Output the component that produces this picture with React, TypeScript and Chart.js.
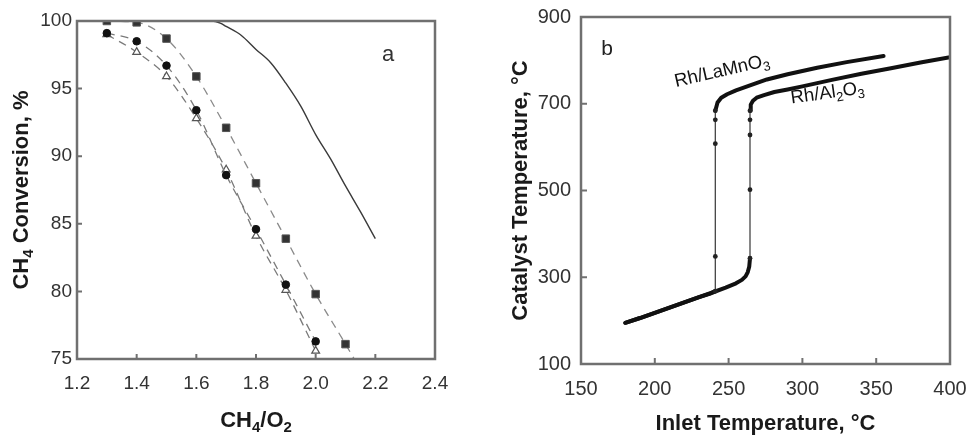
import React, { useEffect, useRef } from "react";
import { Chart, registerables } from "chart.js";

Chart.register(...registerables);

const FONT = "'Liberation Sans', Arial, Helvetica, sans-serif";
const FRAME = "#707070";

// ---------- Panel a : CH4 conversion vs CH4/O2 ----------
const ratioTicks = [1.2, 1.4, 1.6, 1.8, 2.0, 2.2, 2.4];
const convTicks = [75, 80, 85, 90, 95, 100];
const ratioSquares = [1.3, 1.4, 1.5, 1.6, 1.7, 1.8, 1.9, 2.0, 2.1];
const convSquares = [100, 99.9, 98.7, 95.9, 92.1, 88.0, 83.9, 79.8, 76.1];
const ratioSquaresTail = [2.2];
const convSquaresTail = [72.3];
const ratioCircles = [1.3, 1.4, 1.5, 1.6, 1.7, 1.8, 1.9, 2.0];
const convCircles = [99.1, 98.5, 96.7, 93.4, 88.6, 84.6, 80.5, 76.3];
const ratioTriangles = [1.3, 1.4, 1.5, 1.6, 1.7, 1.8, 1.9, 2.0];
const convTriangles = [99.0, 97.7, 95.9, 92.8, 89.0, 84.1, 80.1, 75.6];
const ratioEquil = [1.3, 1.4, 1.5, 1.6, 1.65, 1.68, 1.7, 1.75, 1.8, 1.85, 1.9, 1.95, 2.0, 2.05, 2.1, 2.15, 2.2];
const convEquil = [100, 100, 100, 100, 100, 99.85, 99.6, 98.95, 97.9, 96.9, 95.4, 93.7, 91.6, 89.8, 87.8, 85.9, 83.9];

// ---------- Panel b : catalyst temperature vs inlet temperature ----------
const inletTicks = [150, 200, 250, 300, 350, 400];
const catTicks = [100, 300, 500, 700, 900];
const inletLaMnO3 = [180, 190, 200, 210, 220, 230, 238, 241, 241, 241, 241, 241, 242.5, 245, 249, 255, 265, 276, 290, 310, 330, 355];
const catLaMnO3 = [195, 206, 218, 230, 242, 254, 263, 268, 348, 608, 663, 684, 703, 714, 722, 731, 743, 756, 768, 783, 796, 810];
const inletAl2O3 = [180, 190, 200, 210, 220, 230, 240, 248, 255, 259, 261.5, 263, 264, 264.5, 264.5, 264.5, 264.5, 264.5, 265, 266.5, 269, 274, 281, 290, 300, 320, 340, 360, 380, 400];
const catAl2O3 = [195, 206, 218, 230, 242, 254, 266, 276, 286, 294, 302, 312, 325, 344, 502, 628, 663, 684, 698, 707, 714, 720, 727, 733, 740, 755, 769, 782, 795, 807];

type Part = { t: string; sub?: boolean };
const titleAx: Part[] = [{ t: "CH" }, { t: "4", sub: true }, { t: "/O" }, { t: "2", sub: true }];
const titleAy: Part[] = [{ t: "CH" }, { t: "4", sub: true }, { t: " Conversion, %" }];
const titleBx: Part[] = [{ t: "Inlet Temperature, °C" }];
const titleBy: Part[] = [{ t: "Catalyst Temperature, °C" }];
const labelA: Part[] = [{ t: "a" }];
const labelB: Part[] = [{ t: "b" }];
const labelLaMnO3: Part[] = [{ t: "Rh/LaMnO" }, { t: "3", sub: true }];
const labelAl2O3: Part[] = [{ t: "Rh/Al" }, { t: "2", sub: true }, { t: "O" }, { t: "3", sub: true }];

const xy = (xs: number[], ys: number[]) => xs.map((x, i) => ({ x, y: ys[i] }));

function drawRich(ctx: CanvasRenderingContext2D, parts: Part[], x: number, y: number, size: number, bold: boolean, color: string, angle = 0) {
  ctx.save();
  ctx.translate(x, y);
  ctx.rotate(angle);
  const fontOf = (p: Part) => `${bold ? "bold " : ""}${p.sub ? Math.round(size * 0.68) : size}px ${FONT}`;
  const widths = parts.map((p) => {
    ctx.font = fontOf(p);
    return ctx.measureText(p.t).width;
  });
  const total = widths.reduce((a, b) => a + b, 0);
  let cx = -total / 2;
  ctx.fillStyle = color;
  ctx.textAlign = "left";
  ctx.textBaseline = "middle";
  parts.forEach((p, i) => {
    ctx.font = fontOf(p);
    ctx.fillText(p.t, cx, p.sub ? size * 0.32 : 0);
    cx += widths[i];
  });
  ctx.restore();
}

type Label = { parts: Part[]; x: number; y: number; size: number; angle: number; color: string };
type DecorCfg = {
  xTitle: Part[]; yTitle: Part[]; titleSize: number; xTitleY: number; yTitleX: number;
  labels: Label[]; tick: number;
};

function drawFrame(chart: any, tick: number) {
  const ctx: CanvasRenderingContext2D = chart.ctx;
  const a = chart.chartArea;
  const sx = chart.scales.x;
  const sy = chart.scales.y;
  ctx.save();
  ctx.setLineDash([]);
  ctx.strokeStyle = FRAME;
  ctx.lineWidth = 2.5;
  ctx.beginPath();
  ctx.moveTo(a.left, a.top);
  ctx.lineTo(a.right, a.top);
  ctx.lineTo(a.right, a.bottom);
  ctx.lineTo(a.left, a.bottom);
  ctx.closePath();
  ctx.stroke();
  ctx.lineWidth = 2;
  ctx.beginPath();
  for (const t of sx.ticks) {
    const px = sx.getPixelForValue(t.value);
    ctx.moveTo(px, a.bottom);
    ctx.lineTo(px, a.bottom - tick);
  }
  for (const t of sy.ticks) {
    const py = sy.getPixelForValue(t.value);
    ctx.moveTo(a.left, py);
    ctx.lineTo(a.left + tick, py);
  }
  ctx.stroke();
  ctx.restore();
}

function makeDecor(cfg: DecorCfg) {
  return {
    id: "decorFrame",
    afterDraw(chart: any) {
      drawFrame(chart, cfg.tick);
      const { ctx, chartArea: a, scales } = chart;
      drawRich(ctx, cfg.xTitle, (a.left + a.right) / 2, cfg.xTitleY, cfg.titleSize, true, "#1a1a1a");
      drawRich(ctx, cfg.yTitle, cfg.yTitleX, (a.top + a.bottom) / 2, cfg.titleSize, true, "#1a1a1a", -Math.PI / 2);
      cfg.labels.forEach((l) => {
        drawRich(ctx, l.parts, scales.x.getPixelForValue(l.x), scales.y.getPixelForValue(l.y), l.size, false, l.color, l.angle);
      });
    },
  };
}

function axisOpts(min: number, max: number, values: number[], size: number, padding: number, thickness: number, horizontal: boolean, digits: number) {
  return {
    type: "linear" as const,
    min,
    max,
    afterBuildTicks: (s: any) => {
      s.ticks = values.map((v) => ({ value: v }));
    },
    afterFit: (s: any) => {
      if (horizontal) s.height = thickness;
      else s.width = thickness;
      s.paddingLeft = 0;
      s.paddingRight = 0;
      s.paddingTop = 0;
      s.paddingBottom = 0;
    },
    ticks: {
      autoSkip: false,
      maxRotation: 0,
      padding,
      color: "#333",
      font: { size, family: FONT },
      callback: (v: any) => Number(v).toFixed(digits),
    },
    grid: { display: false, drawTicks: false },
    border: { display: false },
  };
}

export default function App() {
  const refA = useRef<HTMLCanvasElement>(null);
  const refB = useRef<HTMLCanvasElement>(null);

  useEffect(() => {
    const dash = [8, 6];
    const chartA = new Chart(refA.current as HTMLCanvasElement, {
      type: "line",
      data: {
        datasets: [
          {
            data: xy(ratioCircles, convCircles),
            order: 0,
            borderColor: "#7a7a7a",
            borderWidth: 1.3,
            borderDash: dash,
            cubicInterpolationMode: "monotone",
            pointStyle: "circle",
            pointRadius: 3.8,
            pointBackgroundColor: "#111",
            pointBorderColor: "#111",
            pointBorderWidth: 1,
          },
          {
            data: xy(ratioTriangles, convTriangles),
            order: 1,
            borderColor: "#7a7a7a",
            borderWidth: 1.3,
            borderDash: dash,
            cubicInterpolationMode: "monotone",
            pointStyle: "triangle",
            pointRadius: 4.5,
            pointBackgroundColor: "#fff",
            pointBorderColor: "#555",
            pointBorderWidth: 1.2,
          },
          {
            data: xy(ratioSquares, convSquares),
            order: 2,
            showLine: false,
            pointStyle: "rect",
            pointRadius: 5.3,
            pointBackgroundColor: "#333",
            pointBorderColor: "#555",
            pointBorderWidth: 1,
          },
          {
            data: xy(ratioSquares.concat(ratioSquaresTail), convSquares.concat(convSquaresTail)),
            order: 3,
            borderColor: "#8a8a8a",
            borderWidth: 1.3,
            borderDash: dash,
            cubicInterpolationMode: "monotone",
            pointRadius: 0,
          },
          {
            data: xy(ratioEquil, convEquil),
            order: 4,
            borderColor: "#3a3a3a",
            borderWidth: 1.4,
            cubicInterpolationMode: "monotone",
            pointRadius: 0,
          },
        ],
      },
      options: {
        animation: false,
        responsive: false,
        events: [],
        layout: { padding: { top: 21, right: 45, left: 0, bottom: 0 } },
        plugins: { legend: { display: false }, tooltip: { enabled: false } },
        scales: {
          x: axisOpts(1.2, 2.4, ratioTicks, 19, 13, 82, true, 1),
          y: axisOpts(75, 100, convTicks, 19, 5, 77, false, 0),
        },
      } as any,
      plugins: [
        makeDecor({
          xTitle: titleAx, yTitle: titleAy, titleSize: 22, xTitleY: 421, yTitleX: 22, tick: 5,
          labels: [{ parts: labelA, x: 2.243, y: 97.5, size: 22, angle: 0, color: "#333" }],
        }),
      ],
    });

    const radii = (xs: number[]) =>
      xs.map((x, i) => ((i > 0 && xs[i - 1] === x) || (i < xs.length - 1 && xs[i + 1] === x) ? 2.4 : 0));
    const segWidth = (ctx: any) => (Math.abs(ctx.p1.parsed.x - ctx.p0.parsed.x) < 0.3 ? 1.3 : 4);
    const segColor = (ctx: any) => (Math.abs(ctx.p1.parsed.x - ctx.p0.parsed.x) < 0.3 ? "#444" : "#111");

    const chartB = new Chart(refB.current as HTMLCanvasElement, {
      type: "line",
      data: {
        datasets: [
          {
            data: xy(inletLaMnO3, catLaMnO3),
            borderColor: "#111",
            borderWidth: 4,
            borderCapStyle: "round",
            borderJoinStyle: "round",
            tension: 0,
            segment: { borderWidth: segWidth, borderColor: segColor },
            pointRadius: radii(inletLaMnO3),
            pointBackgroundColor: "#222",
            pointBorderWidth: 0,
          },
          {
            data: xy(inletAl2O3, catAl2O3),
            borderColor: "#111",
            borderWidth: 4,
            borderCapStyle: "round",
            borderJoinStyle: "round",
            tension: 0,
            segment: { borderWidth: segWidth, borderColor: segColor },
            pointRadius: radii(inletAl2O3),
            pointBackgroundColor: "#222",
            pointBorderWidth: 0,
          },
        ],
      },
      options: {
        animation: false,
        responsive: false,
        events: [],
        layout: { padding: { top: 17, right: 18, left: 0, bottom: 0 } },
        plugins: { legend: { display: false }, tooltip: { enabled: false } },
        scales: {
          x: axisOpts(150, 400, inletTicks, 20, 13, 77, true, 0),
          y: axisOpts(100, 900, catTicks, 20, 10, 101, false, 0),
        },
      } as any,
      plugins: [
        makeDecor({
          xTitle: titleBx, yTitle: titleBy, titleSize: 22, xTitleY: 424, yTitleX: 41, tick: 6,
          labels: [
            { parts: labelB, x: 167.6, y: 826, size: 21, angle: 0, color: "#222" },
            { parts: labelLaMnO3, x: 245.5, y: 775, size: 18.5, angle: (-13 * Math.PI) / 180, color: "#111" },
            { parts: labelAl2O3, x: 317, y: 724, size: 18.5, angle: (-8 * Math.PI) / 180, color: "#111" },
          ],
        }),
      ],
    });

    return () => {
      chartA.destroy();
      chartB.destroy();
    };
  }, []);

  return (
    <div style={{ position: "fixed", left: 0, top: 0, width: 968, height: 441, background: "#fff" }}>
      <div style={{ position: "absolute", left: 0, top: 0, width: 480, height: 441 }}>
        <canvas ref={refA} width={480} height={441} style={{ width: 480, height: 441, display: "block" }} />
      </div>
      <div style={{ position: "absolute", left: 480, top: 0, width: 488, height: 441 }}>
        <canvas ref={refB} width={488} height={441} style={{ width: 488, height: 441, display: "block" }} />
      </div>
    </div>
  );
}
